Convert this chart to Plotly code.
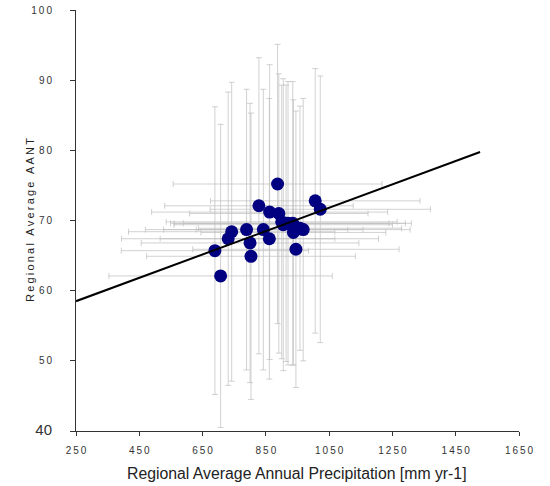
import plotly.graph_objects as go

# ---- data ----
precip = [887, 828, 1006, 1022, 862, 891, 900, 905, 914, 920, 935, 958,
          968, 937, 842, 789, 742, 731, 800, 861, 945, 689, 803, 707]
aant = [75.2, 72.1, 72.8, 71.6, 71.2, 71.0, 69.8, 69.4, 69.6, 69.6, 69.6, 68.9,
        68.7, 68.3, 68.7, 68.7, 68.4, 67.4, 66.8, 67.4, 65.9, 65.7, 64.9, 62.1]
precip_err = [330, 298, 331, 348, 373, 282, 365, 345, 325, 371, 375, 321,
              338, 292, 315, 320, 326, 337, 344, 345, 326, 296, 330, 353]
aant_err = [19.9, 21.1, 18.85, 19.0, 21.0, 19.9, 19.5, 20.8, 19.7, 20.2, 20.2, 17.4,
            18.7, 18.9, 20.0, 20.0, 21.3, 20.9, 19.9, 20.0, 19.7, 20.5, 20.4, 21.6]

trend_x = [250, 1527]
trend_intercept = 58.5   # value at x = 250
trend_slope = 0.01665

x_ticks = [250, 450, 650, 850, 1050, 1250, 1450, 1650]
y_ticks = [40, 50, 60, 70, 80, 90, 100]

def spaced(s):
    return "\u2009".join(list(s))

trend_y = [trend_intercept + trend_slope * (v - trend_x[0]) for v in trend_x]

FONT = "Arial, Liberation Sans, sans-serif"
ERR = "rgba(190,190,190,0.7)"

fig = go.Figure()
fig.add_trace(go.Scatter(
    x=precip, y=aant, mode="markers",
    marker=dict(color="#000080", size=13, line=dict(width=0)),
    error_x=dict(type="data", array=precip_err, visible=True, color=ERR, thickness=1, width=3),
    error_y=dict(type="data", array=aant_err, visible=True, color=ERR, thickness=1, width=3),
    showlegend=False, hoverinfo="skip"))
fig.add_trace(go.Scatter(
    x=trend_x, y=trend_y, mode="lines",
    line=dict(color="black", width=2), showlegend=False, hoverinfo="skip"))

y_text = [spaced(str(v)) if v != 40 else '<span style="font-size:15px">40</span>' for v in y_ticks]

fig.update_layout(
    width=550, height=486,
    margin=dict(l=76, r=31, t=10, b=55),
    paper_bgcolor="white", plot_bgcolor="white",
    font=dict(family=FONT, color="#333333", size=10),
    xaxis=dict(range=[250, 1650], tickvals=x_ticks, ticktext=[spaced(str(v)) for v in x_ticks],
               showgrid=False, zeroline=False, showline=True, linecolor="#333333", linewidth=1,
               ticks="outside", ticklen=4, tickcolor="#333333", ticklabelstandoff=6,
               automargin=False, tickfont=dict(size=10, color="#333333")),
    yaxis=dict(range=[40, 100], tickvals=y_ticks, ticktext=y_text,
               showgrid=False, zeroline=False, showline=True, linecolor="#333333", linewidth=1,
               ticks="outside", ticklen=5, tickcolor="#333333", ticklabelstandoff=16,
               automargin=False, tickfont=dict(size=10, color="#333333")),
    annotations=[
        dict(text="Regional Average Annual Precipitation [mm yr-1]", xref="paper", yref="paper",
             x=0.499, y=-0.102, xanchor="center", yanchor="middle", showarrow=False,
             font=dict(family=FONT, size=15.8, color="#222222")),
        dict(text=spaced("Regional Average AANT"), xref="paper", yref="paper",
             x=-0.104, y=0.501, xanchor="center", yanchor="middle", textangle=-90, showarrow=False,
             font=dict(family=FONT, size=11, color="#222222")),
    ],
)

fig.write_html("out.html", post_script="document.body.style.margin='0';",
               config={"displayModeBar": False})
